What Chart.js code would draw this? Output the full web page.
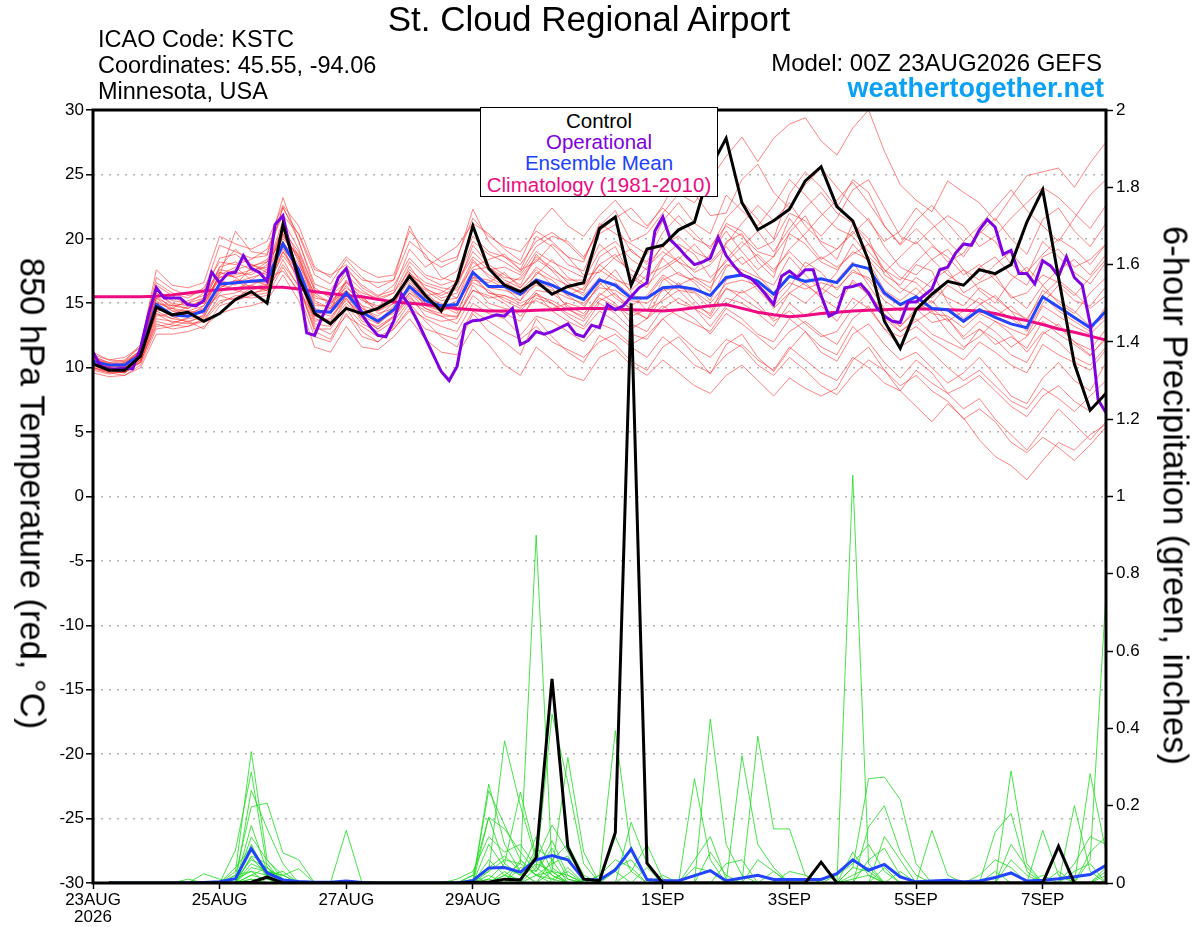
<!DOCTYPE html>
<html><head><meta charset="utf-8">
<script src="https://cdn.jsdelivr.net/npm/chart.js@4.4.1/dist/chart.umd.min.js"></script>
<style>
html,body{margin:0;padding:0;background:#fff;}
#wrap{position:relative;width:1200px;height:927px;overflow:hidden;font-family:'Liberation Sans',Arial,Helvetica,sans-serif;color:#000;}
#c{position:absolute;left:0;top:0;}
.t{position:absolute;white-space:nowrap;line-height:1;}
#title{left:0;width:1178px;text-align:center;top:1px;font-size:35px;}
.hl{left:98px;font-size:23.5px;}
.hr{right:98px;font-size:24px;text-align:right;}
#site{right:96px;top:75px;font-size:27px;font-weight:bold;color:#0aa0f5;}
#legend{position:absolute;left:480px;top:107px;width:236px;height:88px;background:#fff;border:1.5px solid #000;z-index:5;}
#legend div{position:absolute;left:0;width:100%;text-align:center;font-size:20.5px;line-height:1;white-space:nowrap;}
.ax{position:absolute;width:700px;text-align:center;font-size:34.5px;line-height:35px;transform:rotate(90deg);transform-origin:50% 50%;white-space:nowrap;}
</style></head>
<body><div id="wrap">
<canvas id="c" width="1200" height="927"></canvas>
<div class="t" id="title">St. Cloud Regional Airport</div>
<div class="t hl" style="top:28px">ICAO Code: KSTC</div>
<div class="t hl" style="top:54px">Coordinates: 45.55, -94.06</div>
<div class="t hl" style="top:80px">Minnesota, USA</div>
<div class="t hr" style="top:51px">Model: 00Z 23AUG2026 GEFS</div>
<div class="t" id="site">weathertogether.net</div>
<div id="legend">
 <div style="top:3px;color:#000">Control</div>
 <div style="top:24px;color:#8000e0">Operational</div>
 <div style="top:45px;color:#2040ff">Ensemble Mean</div>
 <div style="top:67px;color:#ee0a82">Climatology (1981-2010)</div>
</div>
<div class="ax" style="left:-318px;top:476px;">850 hPa Temperature (red, °C)</div>
<div class="ax" style="left:825px;top:478px;">6-hour Precipitation (green, inches)</div>
</div>
<script>
// ---------------- axis / tick definitions ----------------
const X_TICK_HOURS = [0, 48, 96, 144, 216, 264, 312, 360];
const X_TICK_LABELS = [["23AUG", "2026"], "25AUG", "27AUG", "29AUG", "1SEP", "3SEP", "5SEP", "7SEP"];
const STEP_H = 6;      // ensemble output step (hours)
const OPER_STEP_H = 3; // operational output step (hours)

// ---------------- temperature (850 hPa, deg C), 6-hourly from 00Z 23AUG ----------------
const CONTROL_T = [10.3,9.8,9.8,10.9,14.7,14.1,14.3,13.6,14.2,15.3,15.9,15.0,21.1,17.0,14.2,13.4,14.6,14.2,14.6,15.3,17.1,15.6,14.4,16.7,21.0,17.7,16.4,15.9,16.7,15.7,16.3,16.6,20.8,21.7,16.4,19.2,19.5,20.7,21.3,25.5,27.8,22.8,20.7,21.4,22.3,24.5,25.6,22.5,21.4,18.3,13.6,11.5,14.5,15.7,16.7,16.4,17.6,17.3,18.0,21.3,23.8,17.0,10.3,6.7,8.0];
const MEAN_T = [10.5,10.2,10.2,11.0,14.9,14.1,14.0,14.4,16.5,16.6,16.7,16.8,19.6,17.6,14.4,14.3,15.8,14.3,13.6,14.5,16.3,15.2,14.8,14.9,17.4,16.3,16.3,15.7,16.8,16.4,15.8,15.3,16.8,16.4,15.4,15.4,16.2,16.3,16.1,15.6,17.0,17.2,16.7,15.7,17.1,16.7,16.9,16.6,18.0,17.7,15.8,14.9,15.5,14.6,14.5,13.6,14.5,13.9,13.4,13.1,15.5,14.7,13.9,13.1,14.4];
const CLIM_T = [15.5,15.5,15.5,15.5,15.55,15.65,15.8,15.95,16.05,16.15,16.2,16.25,16.25,16.1,15.9,15.75,15.6,15.5,15.3,15.1,15.0,14.9,14.75,14.6,14.5,14.4,14.4,14.4,14.45,14.5,14.55,14.6,14.6,14.55,14.5,14.45,14.4,14.5,14.65,14.8,14.9,14.6,14.3,14.1,13.95,14.05,14.2,14.3,14.4,14.45,14.5,14.55,14.55,14.55,14.5,14.45,14.4,14.2,13.9,13.65,13.35,13.0,12.75,12.45,12.15];
// operational run, 3-hourly
const OPER_T = [11.2,10.1,9.9,9.9,9.95,9.9,11.5,14.1,16.2,15.4,
15.4,15.4,14.9,14.8,15.2,17.4,16.6,17.3,17.4,18.7,
17.7,17.4,16.7,21.1,21.8,19.0,16.7,12.7,12.5,14.0,
15.3,17.0,17.7,15.7,14.1,13.2,12.5,12.4,13.6,15.7,
14.8,13.6,12.3,11.0,9.7,9.0,10.1,13.35,13.65,13.7,
13.9,14.1,14.0,14.6,11.8,12.1,12.8,12.6,12.8,13.1,
13.4,12.6,12.4,13.3,13.1,14.9,14.5,14.8,15.5,16.2,
16.6,20.6,21.7,19.9,19.3,18.6,18.0,18.2,18.5,20.1,
18.7,17.9,17.2,17.0,16.4,15.7,14.9,17.1,17.5,17.0,
17.6,17.6,15.6,14.0,14.3,16.2,16.3,16.5,15.8,14.7,
14.0,13.6,13.5,15.1,15.1,15.6,16.1,17.6,17.8,18.9,
19.6,19.5,20.7,21.5,20.9,18.8,19.1,17.3,17.3,16.5,
18.3,17.9,17.1,18.6,17.0,16.4,13.4,7.5,6.5];

// ensemble members (temperature)
const T_M01 = [10.8,10.3,10.0,11.2,16.0,15.2,15.0,15.8,18.5,18.8,17.9,18.2,22.5,19.8,16.5,16.0,17.8,16.2,15.5,16.4,18.5,17.2,16.8,17.5,20.2,19.0,18.6,18.0,19.8,20.5,19.6,18.4,21.0,22.2,19.8,20.4,22.0,23.5,22.8,24.6,26.4,27.9,26.0,27.8,28.9,29.4,27.6,26.5,28.6,30.0,26.8,24.2,23.0,22.1,24.5,23.6,22.8,21.4,23.2,24.9,25.2,25.5,24.0,25.9,27.5];
const T_M02 = [10.0,9.6,9.4,10.2,13.0,13.2,13.6,13.0,14.8,15.2,15.8,16.0,18.0,16.4,13.2,12.6,14.0,13.2,12.4,13.0,14.6,13.8,13.2,12.8,15.0,14.2,13.8,12.5,14.0,13.6,12.8,12.0,13.4,12.9,11.8,12.5,13.8,12.6,11.5,10.8,12.2,11.6,10.2,9.4,10.8,9.8,8.6,7.9,9.4,10.6,9.8,8.2,7.0,5.8,7.2,6.1,4.4,3.1,2.4,1.3,2.8,4.2,3.6,4.8,5.6];
const T_M03 = [10.6,10.1,10.3,11.4,15.8,14.9,14.6,15.4,17.8,19.2,18.0,17.4,21.0,18.6,15.0,14.6,16.7,15.3,14.4,15.2,17.9,16.1,15.6,16.2,19.5,18.0,17.2,16.4,18.8,17.5,16.2,15.8,18.6,19.4,17.0,16.2,18.5,17.2,16.8,15.9,19.8,20.4,18.2,17.0,20.5,21.8,19.6,18.4,21.2,20.0,17.2,16.4,18.0,17.5,15.0,13.8,14.9,15.6,14.4,12.8,15.0,16.4,15.2,14.8,16.3];
const T_M04 = [10.2,9.9,10.1,10.6,13.6,13.3,13.2,13.8,15.2,15.4,16.2,16.5,18.7,17.0,13.8,13.5,15.0,13.9,13.0,13.9,15.4,14.6,14.2,13.9,16.0,15.4,15.6,15.0,15.6,15.2,14.5,14.0,15.4,14.8,14.0,14.5,15.2,16.0,15.8,14.6,16.1,15.8,16.4,14.6,15.8,15.0,16.2,15.4,16.6,15.8,14.0,13.2,14.6,13.5,13.8,12.2,13.0,11.8,12.4,11.5,13.6,12.6,11.8,10.9,12.4];
const T_M05 = [11.2,10.6,10.5,11.8,17.0,16.1,15.6,15.9,19.5,19.0,18.5,18.7,22.4,20.3,17.2,16.5,18.4,17.0,16.2,16.8,21.0,18.5,17.8,18.4,22.3,19.8,18.6,17.6,20.2,19.4,18.0,17.5,20.4,21.1,19.0,18.2,20.5,21.8,20.4,19.2,21.6,22.9,21.5,20.0,23.5,25.2,24.0,22.4,24.6,23.6,21.0,19.5,20.8,19.6,18.2,18.9,20.6,19.8,18.0,17.2,19.8,18.6,17.4,16.5,18.2];
const T_M06 = [9.8,9.5,9.7,10.4,14.2,13.5,13.8,14.0,16.0,16.2,16.4,16.0,19.0,17.4,14.4,14.0,15.2,14.2,13.6,14.6,16.0,15.0,14.6,14.8,17.5,16.2,16.0,15.6,16.4,16.0,15.4,15.0,16.2,16.0,15.2,15.0,16.0,16.2,15.9,15.0,16.5,16.8,16.4,15.4,16.6,16.1,16.6,16.2,17.4,17.0,15.6,14.8,15.2,14.2,14.0,13.1,14.2,13.6,13.0,12.5,14.8,14.0,13.2,12.6,13.8];
const T_M07 = [10.4,10.0,9.8,10.9,14.8,14.0,13.5,14.1,16.4,16.0,15.7,16.2,19.4,16.5,12.8,12.2,14.6,12.8,12.0,13.2,15.0,13.6,12.4,11.6,14.2,12.8,12.0,11.0,13.8,12.4,11.2,10.4,12.5,11.8,10.5,9.8,11.6,12.4,11.0,9.5,11.8,12.6,10.8,9.7,11.4,12.8,11.2,10.5,12.6,13.4,11.8,10.6,11.2,10.0,8.8,9.6,10.8,9.4,7.8,7.2,9.2,10.4,9.0,8.2,10.4];
const T_M08 = [10.8,10.4,10.6,11.6,16.4,15.6,14.8,15.0,17.2,20.6,19.0,18.8,23.2,19.8,16.2,15.4,17.6,16.4,15.6,16.0,19.2,17.8,18.6,19.4,21.2,20.4,19.2,18.3,21.0,22.4,21.0,20.2,21.8,23.0,21.5,20.8,22.6,24.8,23.5,21.8,22.0,24.6,25.8,23.6,22.4,24.2,25.5,24.0,22.6,21.4,19.8,20.6,22.4,21.2,19.8,18.6,20.4,21.6,20.0,18.8,21.5,22.4,20.6,19.4,21.2];
const T_M09 = [10.0,9.7,9.6,10.5,13.2,13.4,13.9,14.6,15.6,15.8,16.4,17.0,17.5,16.0,14.0,14.6,15.9,14.6,13.8,14.2,16.6,15.4,15.0,14.4,16.8,16.6,17.4,16.2,17.8,17.0,16.4,15.6,17.0,15.6,14.8,15.6,17.2,16.4,17.0,16.2,18.0,17.6,17.0,16.4,18.6,17.2,16.0,17.4,19.6,18.2,16.0,15.2,16.2,15.0,16.4,15.6,15.0,14.0,14.8,13.6,16.0,15.2,14.4,13.2,14.0];
const T_M10 = [10.6,10.2,10.0,11.0,15.2,14.4,14.4,14.8,17.0,17.2,17.6,17.2,20.2,18.6,15.4,15.2,16.2,15.2,14.8,15.4,17.0,16.0,15.2,15.4,18.2,17.2,16.6,16.0,17.2,18.4,17.0,16.4,18.0,17.0,16.0,17.2,17.8,18.6,17.4,18.0,19.4,18.0,18.8,17.6,19.0,17.8,18.6,17.8,18.8,19.6,17.6,16.2,15.6,16.8,17.6,15.8,16.6,17.2,15.4,15.8,17.2,16.6,15.6,17.0,18.4];
const T_M11 = [10.3,9.8,9.9,10.8,14.0,14.2,14.2,14.4,15.8,16.6,17.0,17.4,19.2,17.8,14.6,14.2,15.4,13.6,13.2,14.0,15.6,14.0,13.6,13.8,16.4,15.0,14.6,14.4,15.8,15.0,14.0,13.2,15.0,14.2,13.0,13.8,14.8,14.0,13.4,12.8,14.6,13.8,12.6,12.0,13.8,12.8,11.6,11.0,13.2,12.0,10.4,9.2,10.6,9.6,8.0,6.8,7.6,6.0,4.8,3.6,5.2,6.8,5.6,4.4,5.8];
const T_M12 = [10.9,10.4,10.2,11.4,16.6,15.8,15.4,16.2,18.2,18.0,18.4,19.2,21.8,20.4,17.6,17.2,18.0,16.8,16.6,16.8,19.8,18.8,17.0,16.6,19.0,17.8,17.0,16.8,18.4,17.6,16.8,16.8,19.0,19.8,18.4,17.6,19.6,20.2,19.0,18.4,21.2,20.6,19.2,19.8,22.0,21.4,20.2,21.6,23.8,24.6,22.4,20.2,19.6,20.8,21.8,21.0,19.4,20.2,21.6,22.8,24.0,23.2,22.0,20.8,22.6];
const T_M13 = [9.6,9.3,9.4,10.0,12.6,12.6,12.8,13.2,14.2,14.6,14.8,15.2,17.2,15.2,11.6,11.2,13.2,11.6,11.4,12.4,13.8,12.2,11.2,11.0,13.0,11.8,10.2,9.4,11.6,10.6,9.4,9.0,10.8,11.4,10.2,9.4,10.6,9.6,8.6,8.0,9.4,10.2,9.0,7.8,9.2,8.4,7.8,8.4,10.6,11.6,9.8,8.6,9.4,8.2,7.4,6.0,6.8,5.8,4.2,3.4,4.6,3.8,2.8,4.0,5.4];
const T_M14 = [10.5,10.0,10.4,11.2,15.6,14.6,15.2,15.6,17.6,17.4,17.2,18.0,20.8,18.2,14.8,14.8,16.8,15.6,14.2,14.6,16.4,15.6,15.8,16.6,18.6,17.6,17.8,17.2,19.0,18.2,17.6,17.0,19.6,18.4,17.6,16.8,18.6,19.6,18.8,17.0,18.2,19.4,20.6,19.0,20.8,22.4,23.6,22.0,21.2,19.6,18.2,17.0,16.6,15.4,16.8,17.6,16.0,15.0,16.8,17.8,16.4,15.0,14.2,15.8,17.0];
const T_M15 = [10.1,9.8,9.6,10.6,14.4,13.8,13.6,13.9,16.2,16.8,16.0,16.4,19.6,17.2,13.6,13.8,15.6,14.4,13.4,14.4,15.8,15.0,14.4,14.8,17.2,15.8,15.4,14.8,15.2,14.6,15.0,14.6,16.6,15.4,14.6,13.8,16.2,15.0,14.6,13.8,15.4,15.0,14.2,13.2,15.0,14.0,14.8,13.6,15.4,14.6,13.0,12.4,13.2,12.2,11.4,10.6,12.0,11.2,10.2,9.6,11.8,11.0,10.4,9.8,11.4];
const T_M16 = [11.0,10.6,10.8,11.6,17.6,16.4,16.2,16.6,20.2,19.6,19.2,19.8,22.6,21.0,17.8,17.0,18.6,17.6,17.0,17.2,20.6,19.2,18.2,18.6,21.6,20.2,19.4,19.0,20.6,19.8,18.6,18.2,21.2,20.4,19.6,18.8,21.4,22.8,21.2,20.4,23.4,22.2,21.0,22.6,24.6,23.4,22.0,20.8,20.2,18.6,17.4,18.6,19.8,18.4,17.2,16.4,17.8,18.6,17.2,16.4,18.6,19.2,17.8,18.4,19.6];
const T_M17 = [10.4,10.0,9.9,10.7,15.0,14.6,14.0,14.4,17.4,17.0,16.2,16.0,20.4,17.6,14.2,14.4,16.4,14.8,13.6,14.8,17.4,15.8,14.8,14.2,17.0,16.8,16.2,15.2,17.4,16.8,15.6,14.8,16.4,17.6,15.8,14.4,16.8,17.4,16.6,15.2,17.8,18.6,17.2,15.8,17.2,16.4,15.6,16.8,18.2,16.4,14.6,13.2,14.4,15.2,13.8,12.4,13.6,12.8,11.6,12.4,14.0,13.2,12.0,11.4,13.0];
const T_M18 = [10.7,10.3,10.5,11.3,15.4,14.8,14.6,15.2,17.0,17.6,18.0,17.6,20.6,19.0,16.0,15.6,16.6,15.8,15.4,15.8,17.6,16.6,16.2,16.0,17.8,18.4,18.8,17.6,18.2,19.6,18.6,17.2,17.4,18.6,19.2,18.0,19.4,18.2,17.6,18.8,20.6,19.0,17.6,18.6,21.6,20.0,18.4,19.2,20.4,21.6,19.4,17.8,17.2,18.4,19.2,17.6,16.8,18.0,19.0,17.4,18.8,20.0,19.2,18.0,19.6];
const T_M19 = [9.9,9.6,9.8,10.4,13.8,13.6,13.4,13.6,15.6,15.2,15.6,15.8,18.4,16.2,13.0,13.0,14.8,13.4,12.8,13.6,15.2,14.4,14.0,13.4,15.6,14.6,14.2,13.6,15.8,14.4,13.6,13.0,14.4,13.6,12.6,12.2,13.8,14.6,13.8,12.6,14.2,13.4,12.4,11.4,12.8,13.6,12.6,11.8,13.8,14.8,13.0,11.6,12.4,11.2,10.0,9.0,9.8,8.6,7.4,6.8,8.4,7.6,6.6,7.8,9.0];
const T_M20 = [10.5,10.1,10.2,11.0,14.6,14.0,14.8,15.2,16.8,16.4,17.8,18.4,19.8,18.0,15.8,15.0,16.0,14.8,14.4,15.0,16.8,15.4,14.6,15.2,16.6,16.0,15.2,14.6,16.0,15.8,14.8,14.2,15.6,16.6,15.6,15.4,17.0,16.0,14.8,14.2,16.8,17.4,16.0,14.8,16.2,18.2,17.4,16.0,17.6,16.8,15.2,14.4,15.6,14.6,13.6,14.4,15.4,14.6,13.8,13.0,15.6,14.4,13.6,12.8,14.8];
const T_M21 = [10.2,9.9,10.0,10.8,14.2,13.8,14.2,14.6,16.2,16.8,16.6,16.6,19.0,17.0,13.4,13.2,15.4,13.8,13.0,14.0,15.8,14.6,14.0,14.0,16.0,15.6,15.0,14.0,15.4,15.0,14.2,13.6,15.2,15.8,14.4,13.8,15.4,16.6,15.2,14.0,16.2,15.4,14.6,13.8,15.8,16.6,15.4,14.6,16.8,15.6,13.8,12.8,13.8,12.6,12.0,11.4,13.0,12.2,11.0,10.4,12.6,13.4,12.0,11.0,12.2];
const T_M22 = [10.6,10.2,10.4,11.2,15.8,15.0,14.8,15.0,17.8,18.2,17.6,17.8,21.4,19.2,16.0,15.6,17.2,16.0,15.2,15.8,18.2,17.0,16.4,16.8,19.8,18.8,18.2,17.4,19.4,20.2,19.8,18.6,20.6,21.6,22.4,21.0,22.4,21.2,20.0,19.4,21.0,20.2,19.0,18.6,20.4,19.6,18.2,17.6,19.0,18.4,16.8,15.8,17.0,16.2,15.4,14.8,16.2,15.4,14.4,13.8,15.6,16.8,15.8,14.6,15.6];
const T_M23 = [10.0,9.7,9.6,10.4,13.4,13.0,13.2,13.6,15.0,15.6,15.4,15.6,17.8,15.8,12.4,12.0,14.2,12.4,12.0,13.0,14.4,13.0,12.6,12.2,14.4,13.6,12.8,12.2,13.2,12.0,11.4,10.8,12.0,12.6,11.6,10.8,12.4,11.4,10.2,9.6,11.0,11.8,10.6,9.8,11.6,10.6,9.6,9.0,10.8,10.0,8.8,8.2,9.8,8.8,8.0,8.6,9.4,8.2,7.0,6.2,7.8,8.6,7.4,6.6,8.2];
const T_M24 = [10.7,10.2,10.1,11.1,15.4,14.4,14.0,14.8,17.2,17.8,16.8,16.4,20.4,18.4,15.2,14.6,16.0,14.6,14.0,15.0,17.2,16.4,16.0,15.4,17.6,17.8,16.8,16.2,17.6,16.4,15.6,16.2,18.0,18.8,17.2,16.4,17.6,18.4,19.6,18.2,19.6,21.2,22.6,21.4,22.8,21.0,19.8,19.2,20.6,19.0,17.6,16.8,18.2,19.4,18.6,17.2,18.0,16.8,15.6,14.6,16.4,17.6,18.4,17.2,18.8];
const T_M25 = [10.3,9.9,9.7,10.6,14.4,14.6,14.4,14.2,16.6,16.0,16.8,17.6,19.8,17.4,14.0,13.6,15.6,14.0,13.4,14.4,16.2,14.8,14.4,15.0,17.0,15.8,15.6,15.2,16.6,16.2,14.6,13.8,15.8,15.0,13.4,12.8,14.6,15.4,14.6,13.2,14.8,16.0,15.0,13.6,14.4,13.4,12.4,12.8,14.6,15.8,14.2,12.8,13.6,14.4,12.8,11.6,12.4,13.6,12.6,11.2,12.8,12.0,10.8,10.2,11.6];
const T_M26 = [10.5,10.1,10.3,11.2,15.0,14.8,15.0,15.4,17.4,17.0,17.4,18.2,20.0,18.8,15.6,15.0,16.6,15.4,14.6,15.2,17.4,16.2,15.4,15.8,18.4,17.0,16.4,17.0,18.6,17.8,16.6,16.0,17.6,16.8,16.4,17.8,19.0,18.2,17.0,16.6,18.4,19.8,18.6,17.4,19.2,20.4,21.8,23.0,24.4,22.8,21.0,19.6,21.4,22.6,21.2,19.8,21.0,22.4,23.8,22.2,21.0,19.8,21.6,23.4,24.6];

// ---------------- 6-hour precipitation (inches), valid 06Z 23AUG .. 00Z 8SEP ----------------
const CONTROL_P = [0,0,0,0,0,0,0,0,0,0.002,0.015,0,0,0,0,0,
0,0,0,0,0,0,0,0.002,0.002,0.01,0.008,0.066,0.528,0.092,0.01,0.006,
0.131,1.5,0.051,0,0,0,0,0,0,0,0,0,0,0.054,0,0,
0,0,0,0,0,0,0,0,0,0,0,0,0.095,0,0,0];
const MEAN_P = [0,0,0,0,0,0,0.001,0.003,0.011,0.089,0.026,0.008,0.004,0.002,0.002,0.005,
0.001,0,0,0,0,0,0,0.006,0.039,0.04,0.028,0.06,0.071,0.06,0.01,0.008,
0.034,0.088,0.009,0.006,0.006,0.019,0.032,0.006,0.013,0.02,0.009,0.009,0.009,0.009,0.024,0.06,
0.033,0.048,0.016,0.003,0.005,0.007,0.003,0.005,0.014,0.026,0.005,0.007,0.011,0.016,0.022,0.046];

const P_M01 = [0,0,0,0,0,0,0,0,0.03,0.34,0.06,0.01,0,0,0,0, 0,0,0,0,0,0,0,0,0,0.02,0.05,0.90,0.04,0.01,0,0, 0,0,0,0,0,0,0,0,0,0,0,0,0,0,0,0.01, 0.02,0,0,0,0,0,0,0,0,0,0,0,0,0,0,0];
const P_M02 = [0,0,0,0,0,0,0,0,0.085,0.287,0.04,0,0,0,0,0, 0,0,0,0,0,0,0,0,0.256,0.10,0.03,0,0,0,0,0, 0,0,0,0,0,0,0,0,0,0,0,0,0,0,0,1.055, 0.05,0,0,0,0,0,0,0,0,0,0,0,0,0,0.06,0.75];
const P_M03 = [0,0,0,0,0,0,0,0,0,0.24,0.14,0.05,0,0,0,0, 0,0,0,0,0,0,0,0,0.03,0.368,0.20,0.06,0.02,0,0,0, 0,0,0,0,0,0,0.424,0.10,0.02,0,0,0,0,0,0,0, 0,0,0,0,0,0,0,0,0,0,0,0,0,0,0,0];
const P_M04 = [0,0,0,0,0,0,0,0,0.02,0.197,0.207,0.078,0.06,0,0,0, 0,0,0,0,0,0,0,0,0,0,0,0.04,0.437,0.26,0.05,0, 0,0,0,0,0,0,0,0,0,0.38,0.14,0.14,0.02,0,0,0, 0,0,0,0,0,0,0,0,0,0,0,0,0,0,0,0];
const P_M05 = [0,0,0,0,0,0,0,0,0,0.149,0.03,0.02,0,0,0,0, 0,0,0,0,0,0,0,0,0.239,0.15,0.06,0.02,0.03,0.325,0.08,0, 0,0,0,0,0,0,0,0,0,0,0,0,0,0,0,0, 0,0,0,0,0,0,0,0,0,0.29,0.05,0,0,0,0,0];
const P_M06 = [0,0,0,0,0,0,0,0,0,0.119,0.059,0.02,0.037,0,0,0, 0,0,0,0,0,0,0,0,0,0,0,0,0,0,0,0.02, 0.394,0.08,0.01,0,0,0,0,0,0,0,0,0,0,0,0,0.04, 0.27,0.274,0.216,0.05,0,0,0,0,0,0,0,0,0,0,0,0];
const P_M07 = [0,0,0,0,0,0,0,0,0.04,0.093,0.01,0,0,0,0,0.136, 0,0,0,0,0,0,0,0,0.17,0.05,0.02,0.12,0.03,0,0,0, 0,0,0,0,0,0.27,0.06,0,0,0,0,0,0,0,0,0, 0,0,0,0,0,0,0,0,0,0,0,0,0,0,0.283,0.08];
const P_M08 = [0,0,0,0,0,0,0.024,0.01,0,0.067,0.02,0,0,0,0,0, 0,0,0,0,0,0,0,0.02,0.17,0.14,0.08,0.03,0.11,0.02,0,0, 0,0.157,0.05,0,0,0,0,0,0,0,0,0,0,0,0,0, 0.145,0.2,0.08,0.02,0,0,0,0,0,0,0,0,0,0.2,0.03,0];
const P_M09 = [0,0,0,0,0,0,0,0,0,0.04,0.03,0.01,0,0,0,0, 0,0,0,0,0,0,0,0,0.01,0.05,0.235,0.07,0.02,0,0,0, 0,0,0,0,0,0,0,0,0.33,0.10,0.04,0,0,0,0,0, 0,0,0,0,0.136,0.02,0,0,0,0,0,0,0,0,0,0];
const P_M10 = [0,0,0,0,0,0,0,0,0.02,0.03,0.02,0,0,0,0,0, 0,0,0,0,0,0,0,0,0,0,0.01,0.09,0.06,0.10,0.02,0, 0.12,0.03,0.10,0.01,0,0,0,0,0,0,0,0,0,0,0,0, 0,0,0,0,0,0,0,0,0.132,0.18,0.03,0,0,0,0,0.04];
const P_M11 = [0,0,0,0,0,0,0,0,0,0.02,0.01,0,0,0,0,0, 0,0,0,0,0,0,0,0,0.10,0.04,0.02,0.06,0.15,0.08,0.01,0, 0,0,0,0,0,0,0.08,0.02,0,0,0,0,0,0,0.02,0.05, 0.10,0.03,0,0,0,0,0,0,0,0,0,0.136,0.02,0,0,0];
const P_M12 = [0,0,0,0,0,0,0,0,0.01,0.06,0.04,0.01,0,0,0,0, 0,0,0,0,0,0,0.01,0.03,0.12,0.08,0.10,0.04,0.01,0,0,0, 0.04,0.06,0.01,0,0,0,0,0,0,0,0,0.03,0.02,0,0,0, 0,0.12,0.06,0,0,0,0,0,0,0,0,0,0,0,0.08,0.12];
const P_M13 = [0,0,0,0,0,0,0,0,0,0.05,0.03,0.02,0,0,0,0, 0,0,0,0,0,0,0,0,0.06,0.02,0.01,0.05,0.03,0,0,0.02, 0.06,0.04,0,0,0,0.06,0.12,0.01,0,0,0,0,0,0,0,0, 0.06,0.09,0.02,0,0,0,0,0.02,0.06,0.04,0,0,0,0,0,0];
const P_M14 = [0,0,0,0,0,0.01,0,0,0,0.07,0.05,0,0,0,0,0, 0,0,0,0,0,0,0,0.01,0.03,0.06,0.05,0.02,0.01,0.03,0,0, 0,0,0,0,0,0,0,0,0,0.06,0.03,0,0,0,0,0.04, 0.03,0,0,0,0,0,0,0,0,0,0,0,0,0.05,0.12,0.10];
const P_M15 = [0,0,0,0,0,0,0,0,0,0.10,0.02,0,0,0,0,0, 0,0,0,0,0,0,0,0,0.02,0,0.04,0.03,0.09,0.01,0,0, 0.03,0,0,0,0,0,0,0,0,0,0,0,0,0,0,0, 0,0,0,0,0,0,0,0,0,0.10,0.04,0,0.03,0,0,0];
const P_M16 = [0,0,0,0,0,0,0,0,0,0.01,0,0.01,0,0,0,0, 0,0,0,0,0,0,0,0,0,0.02,0,0.02,0.05,0.07,0,0, 0,0,0,0.02,0,0,0,0,0,0,0.03,0,0,0,0,0.08, 0.02,0,0,0,0,0,0,0,0,0,0,0,0,0,0,0.03];
const P_M17 = [0,0,0,0,0,0,0,0,0,0.02,0.04,0,0,0,0,0, 0,0,0,0,0,0,0,0,0.04,0.07,0.03,0,0.06,0,0,0, 0,0,0,0,0,0.04,0.03,0,0,0,0,0,0,0,0,0, 0,0,0,0,0,0,0,0,0,0.06,0.02,0,0,0,0,0];
const P_M18 = [0,0,0,0,0,0,0,0,0.01,0.03,0,0,0,0,0,0, 0,0,0,0,0,0,0,0.02,0,0.03,0,0.08,0,0.04,0,0, 0,0.03,0,0,0,0,0,0,0,0,0,0,0,0,0,0, 0,0.04,0,0,0,0,0,0,0,0,0,0,0,0.03,0.05,0];
const P_M19 = [0,0,0,0,0,0,0,0,0,0,0.02,0.03,0,0,0,0, 0,0,0,0,0,0,0,0,0,0,0.06,0.02,0,0,0,0, 0,0,0,0,0,0,0,0.05,0.06,0,0,0,0,0,0,0.02, 0.04,0,0,0,0,0,0,0,0,0,0,0.02,0,0,0,0.02];
const P_M20 = [0,0,0,0,0,0,0,0,0,0.01,0,0,0,0,0,0, 0,0,0,0,0,0,0,0,0.01,0,0,0,0.03,0.02,0,0, 0,0,0.04,0,0,0,0,0,0,0,0,0,0,0,0,0, 0,0,0.03,0,0,0,0,0,0.03,0,0,0,0,0,0,0];

const TEMP_MEMBERS = [T_M01,T_M02,T_M03,T_M04,T_M05,T_M06,T_M07,T_M08,T_M09,T_M10,T_M11,T_M12,T_M13,T_M14,T_M15,T_M16,T_M17,T_M18,T_M19,T_M20,T_M21,T_M22,T_M23,T_M24,T_M25,T_M26];
const PRECIP_MEMBERS = [P_M01,P_M02,P_M03,P_M04,P_M05,P_M06,P_M07,P_M08,P_M09,P_M10,P_M11,P_M12,P_M13,P_M14,P_M15,P_M16,P_M17,P_M18,P_M19,P_M20];

// ---------------- build datasets ----------------
const toXY = (arr, step, first) => arr.map((v, k) => ({x: (k + first) * step, y: v}));
const base = {pointRadius: 0, pointHoverRadius: 0, fill: false, tension: 0};
const datasets = [];
PRECIP_MEMBERS.forEach((m, n) => datasets.push(Object.assign({}, base, {
  label: 'pcp member ' + (n + 1), data: toXY(m, STEP_H, 1), yAxisID: 'yP',
  borderColor: 'rgba(30,220,30,0.9)', borderWidth: 0.9, order: 9})));
TEMP_MEMBERS.forEach((m, n) => datasets.push(Object.assign({}, base, {
  label: 'member ' + (n + 1), data: toXY(m, STEP_H, 0), yAxisID: 'yT',
  borderColor: 'rgba(255,45,45,0.65)', borderWidth: 0.9, order: 8})));
datasets.push(Object.assign({}, base, {label: 'Climatology (1981-2010)', data: toXY(CLIM_T, STEP_H, 0), yAxisID: 'yT', borderColor: '#ee0a82', borderWidth: 3, order: 5}));
datasets.push(Object.assign({}, base, {label: 'Ensemble Mean', data: toXY(MEAN_T, STEP_H, 0), yAxisID: 'yT', borderColor: '#2244ff', borderWidth: 3, order: 4}));
datasets.push(Object.assign({}, base, {label: 'Ensemble Mean pcp', data: toXY(MEAN_P, STEP_H, 1), yAxisID: 'yP', borderColor: '#2244ff', borderWidth: 3, order: 4}));
datasets.push(Object.assign({}, base, {label: 'Operational', data: toXY(OPER_T, OPER_STEP_H, 0), yAxisID: 'yT', borderColor: '#7f00e0', borderWidth: 3, order: 3}));
datasets.push(Object.assign({}, base, {label: 'Control', data: toXY(CONTROL_T, STEP_H, 0), yAxisID: 'yT', borderColor: '#000', borderWidth: 3, order: 2}));
datasets.push(Object.assign({}, base, {label: 'Control pcp', data: toXY(CONTROL_P, STEP_H, 1), yAxisID: 'yP', borderColor: '#000', borderWidth: 3, order: 2}));

const tickFont = {family: "'Liberation Sans', Arial, sans-serif", size: 17, lineHeight: 1.0};

const framePlugin = {
  id: 'frame',
  afterDatasetsDraw(chart) {
    const {ctx, chartArea: a} = chart;
    ctx.save();
    ctx.strokeStyle = '#000';
    ctx.lineWidth = 3;
    ctx.strokeRect(a.left, a.top, a.right - a.left, a.bottom - a.top);
    ctx.restore();
  }
};

new Chart(document.getElementById('c'), {
  type: 'line',
  data: {datasets},
  plugins: [framePlugin],
  options: {
    responsive: false, animation: false, devicePixelRatio: 1,
    layout: {padding: {top: 110, left: 0, right: 0, bottom: 0}},
    plugins: {legend: {display: false}, tooltip: {enabled: false}, title: {display: false}},
    events: [],
    scales: {
      x: {
        type: 'linear', position: 'bottom', min: 0, max: 384,
        afterBuildTicks: (s) => { s.ticks = X_TICK_HOURS.map(v => ({value: v})); },
        afterFit: (s) => { s.height = 44; },
        ticks: {
          autoSkip: false, maxRotation: 0, minRotation: 0, color: '#000', font: tickFont, padding: 3,
          callback: (v) => { const k = X_TICK_HOURS.indexOf(v); return k >= 0 ? X_TICK_LABELS[k] : ''; }
        },
        grid: {drawOnChartArea: false, drawTicks: true, tickLength: 6, tickColor: '#000', tickWidth: 1.5},
        border: {display: false}
      },
      yT: {
        type: 'linear', position: 'left', min: -30, max: 30,
        afterFit: (s) => { s.width = 93; },
        ticks: {stepSize: 5, color: '#000', font: tickFont, padding: 2, callback: (v) => String(v)},
        grid: {drawOnChartArea: true, drawTicks: true, tickLength: 7, color: '#b4b4b4', lineWidth: 1.6, tickColor: '#000', tickWidth: 1.5},
        border: {display: false, dash: [2, 6]}
      },
      yP: {
        type: 'linear', position: 'right', min: 0, max: 2,
        afterFit: (s) => { s.width = 94; },
        ticks: {stepSize: 0.2, color: '#000', font: tickFont, padding: 3, callback: (v) => String(Math.round(v * 10) / 10)},
        grid: {drawOnChartArea: false, drawTicks: true, tickLength: 7, tickColor: '#000', tickWidth: 1.5},
        border: {display: false}
      }
    }
  }
});
</script>
</body></html>
